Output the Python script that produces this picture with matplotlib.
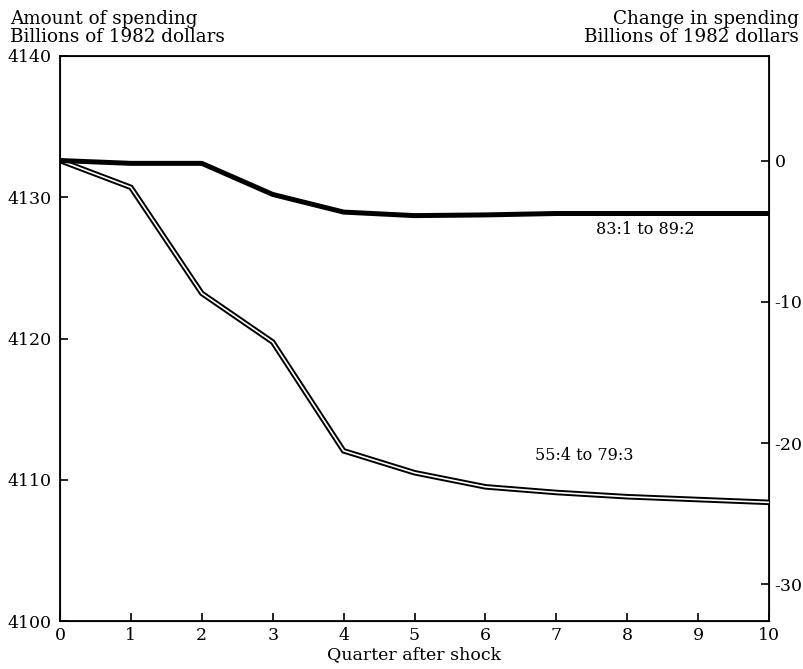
import numpy as np
import matplotlib.pyplot as plt

# quarters after the shock
quarters = [0, 1, 2, 3, 4, 5, 6, 7, 8, 9, 10]
# level of spending, billions of 1982 dollars
recent = [4132.6, 4132.4, 4132.4, 4130.2, 4128.95, 4128.7, 4128.75, 4128.85, 4128.85, 4128.85, 4128.85]
early = [4132.6, 4130.7, 4123.2, 4119.75, 4112.05, 4110.5, 4109.5, 4109.1, 4108.8, 4108.6, 4108.4]
base = 4132.6

left_ticks = [4100, 4110, 4120, 4130, 4140]
right_ticks = [-30, -20, -10, 0]

plt.rcParams['font.family'] = ['DejaVu Serif']
plt.rcParams['axes.unicode_minus'] = False

fig = plt.figure(figsize=(8.04, 6.69), dpi=100)
ax = fig.add_axes([0.0746, 0.0717, 0.8819, 0.8446])

# double line: black stroke with white core
ax.plot(quarters, early, color='black', lw=4.0, solid_joinstyle='miter', zorder=3)
ax.plot(quarters, early, color='white', lw=1.2, solid_joinstyle='miter', zorder=4)
ax.plot(quarters, recent, color='black', lw=3.6, zorder=5)

ax.set_xlim(0, 10)
ax.set_ylim(4100, 4140)
ax.set_xticks(quarters)
ax.set_yticks(left_ticks)
ax.tick_params(direction='in', length=6, width=1.2, labelsize=12.5, pad=4)
ax.tick_params(axis='y', pad=6)
for s in ax.spines.values():
    s.set_linewidth(1.3)

ax2 = ax.twinx()
ax2.set_ylim(4100 - base, 4140 - base)
ax2.set_yticks(right_ticks)
ax2.tick_params(direction='in', length=6, width=1.2, labelsize=12.5, pad=4)

ax.text(8.25, 4127.7, '83:1 to 89:2', ha='center', va='center', fontsize=11.5)
ax.text(7.4, 4111.7, '55:4 to 79:3', ha='center', va='center', fontsize=11.5)

ax.set_xlabel('Quarter after shock', fontsize=12.5, labelpad=2)

fig.text(0.012, 0.985, 'Amount of spending\nBillions of 1982 dollars',
         ha='left', va='top', fontsize=13.2, linespacing=1.0)
fig.text(0.994, 0.985, 'Change in spending\nBillions of 1982 dollars',
         ha='right', va='top', fontsize=13.2, linespacing=1.0, multialignment='right')

fig.savefig('out.png', dpi=100)
